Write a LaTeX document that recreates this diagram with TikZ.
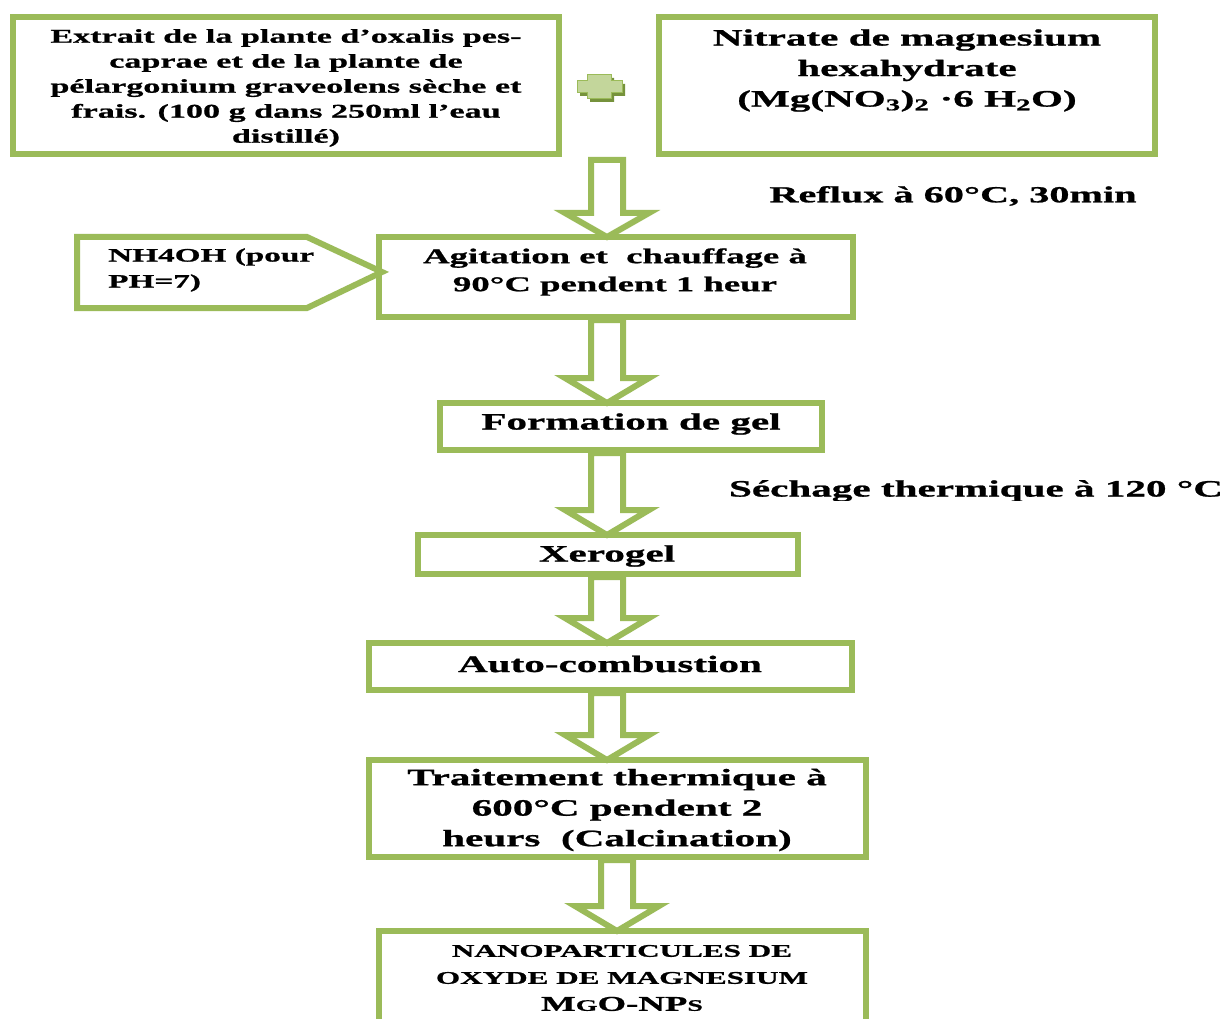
\documentclass[tikz,border=0pt]{standalone}
\usepackage{fontspec}
\setmainfont{Liberation Serif}[FakeStretch=1.75,BoldFeatures={FakeBold=1}]
\definecolor{gr}{HTML}{9BBB59}
\definecolor{plusfill}{HTML}{C3D69B}
\definecolor{plusdark}{HTML}{76923C}
\newcommand{\blockarrow}[4]{%
  \draw[barrow] (#1-16,#2) -- (#1+16,#2) -- (#1+16,#3) -- (#1+42,#3) -- (#1,#4)
    -- (#1-42,#3) -- (#1-16,#3) -- cycle;}
\newcommand{\fs}[2]{\fontsize{#1}{#2}\selectfont\bfseries}
\begin{document}
\begin{tikzpicture}[x=1pt,y=-1pt,
  box/.style={draw=gr,line width=6pt,inner sep=0pt,fill=white},
  barrow/.style={draw=gr,line width=6pt,fill=white,line join=miter},
  txt/.style={inner sep=0pt,align=center,text=black}]
\useasboundingbox (0,0) rectangle (1229,1019);
\fill[white] (0,0) rectangle (1229,1019);
% boxes
\node[box,minimum width=546pt,minimum height=137pt] (A) at (286,85.5) {};
\node[box,minimum width=496pt,minimum height=137pt] (B) at (907,85.5) {};
\node[box,minimum width=474pt,minimum height=80pt] (C) at (616,277) {};
\node[box,minimum width=382pt,minimum height=47pt] (D) at (631,426.5) {};
\node[box,minimum width=380pt,minimum height=39pt] (E) at (608,554.5) {};
\node[box,minimum width=483pt,minimum height=47pt] (F) at (610.5,666.5) {};
\node[box,minimum width=497pt,minimum height=97pt] (G) at (617.5,808.5) {};
\draw[draw=gr,line width=6pt] (379,1030) -- (379,931) -- (866,931) -- (866,1030);
\coordinate (H) at (622,931);
% NH4OH pentagon
\draw[barrow] (77,237) -- (307,237) -- (382,272) -- (307,308) -- (77,308) -- cycle;
% plus sign
\fill[plusdark] (580,84) -- (590,84) -- (590,78) -- (614,78) -- (614,84) -- (625,84)
  -- (625,96) -- (614,96) -- (614,102) -- (590,102) -- (590,96) -- (580,96) -- cycle;
\draw[gr,fill=plusfill,line width=1pt] (577,81) -- (587,81) -- (587,75) -- (611,75) -- (611,81) -- (622,81)
  -- (622,93) -- (611,93) -- (611,99) -- (587,99) -- (587,93) -- (577,93) -- cycle;
% arrows
\blockarrow{607}{160}{213}{237}
\blockarrow{607}{320}{378}{403}
\blockarrow{607}{453}{510}{535}
\blockarrow{607}{577}{618}{643}
\blockarrow{607}{693}{735}{760}
\blockarrow{617}{860}{906}{931}
% texts
\node[txt,font=\fs{19.5}{25}] (tA) at (286,88) {Extrait de la plante d’oxalis pes-\\caprae et de la plante de\\pélargonium graveolens sèche et\\frais. (100 g dans 250ml l’eau\\distillé)};
\node[txt,font=\fs{23.5}{30.5}] (tB) at (907,70.5) {Nitrate de magnesium\\hexahydrate\\(Mg(NO\textsubscript{3})\textsubscript{2} ·6 H\textsubscript{2}O)};
\node[txt,font=\fs{23}{30}] (reflux) at (953,196) {Reflux à 60°C, 30min};
\node[txt,align=left,anchor=west,font=\fs{19}{26}] (tN) at (108,270) {NH4OH (pour\\PH=7)};
\node[txt,font=\fs{21}{28}] (tC) at (615,272) {Agitation et\ \ chauffage à\\90°C pendent 1 heur};
\node[txt,font=\fs{23.5}{28}] (tD) at (631,424) {Formation de gel};
\begin{scope}
\clip (700,460) rectangle (1229,500);
\node[txt,font=\fs{23.5}{28}] (sech) at (976,491) {Séchage thermique à 120 °C};
\end{scope}
\node[txt,font=\fs{23.5}{28}] (tE) at (607,556) {Xerogel};
\node[txt,font=\fs{23.5}{28}] (tF) at (610,664) {Auto-combustion};
\node[txt,font=\fs{23.5}{30.5}] (tG) at (617,810) {Traitement thermique à\\600°C pendent 2\\heurs\ \ (Calcination)};
\node[txt,font=\fs{17.8}{27}] (tH) at (622,978) {NANOPARTICULES DE\\OXYDE DE MAGNESIUM\\{\fontsize{21}{27}\selectfont M{\fontsize{16}{27}\selectfont G}O-NP{\fontsize{16}{27}\selectfont S}}};
\end{tikzpicture}
\end{document}
